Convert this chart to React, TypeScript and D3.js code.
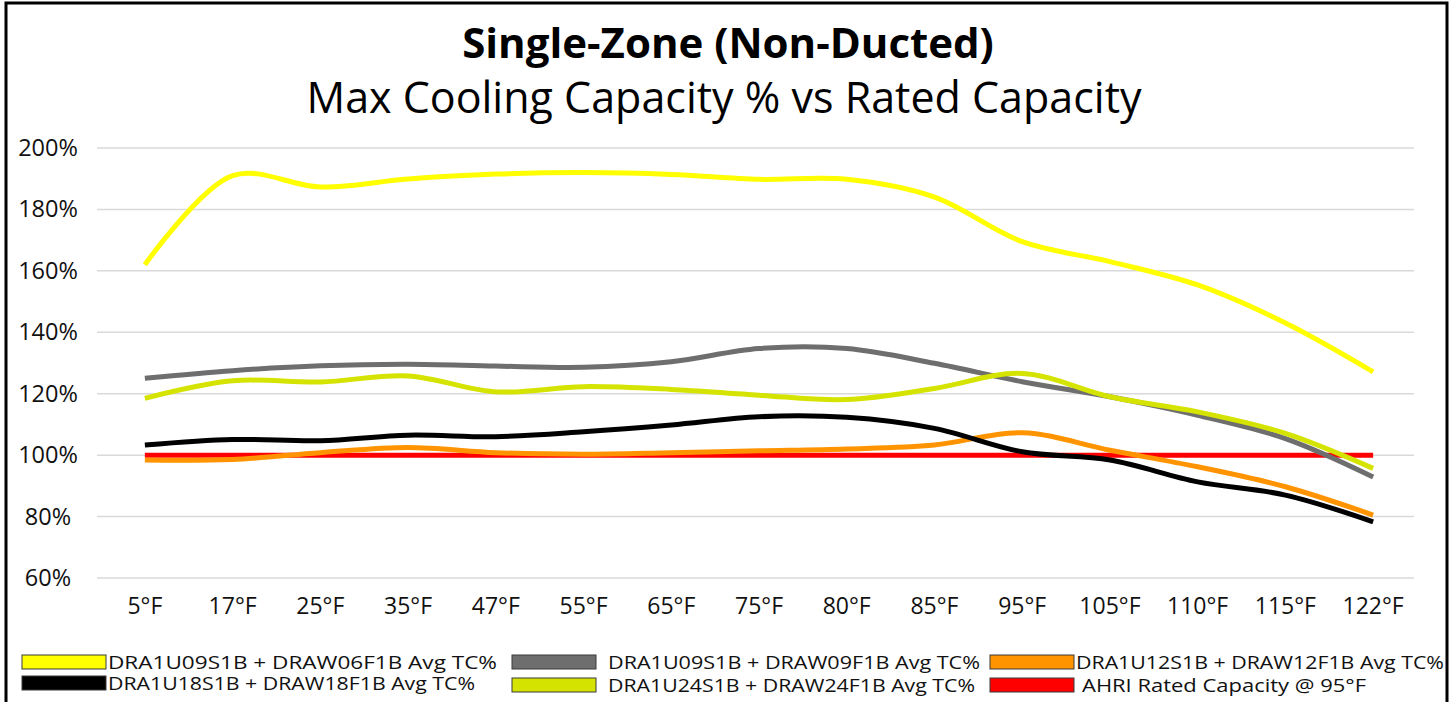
import React from 'react';
import * as d3 from 'd3';

// Outdoor temperature categories
const temps = ['5°F', '17°F', '25°F', '35°F', '47°F', '55°F', '65°F', '75°F', '80°F', '85°F', '95°F', '105°F', '110°F', '115°F', '122°F'];

// Avg TC% per system
const u09w06 = [162, 191, 187.3, 189.9, 191.5, 192, 191.4, 189.8, 189.8, 184, 169.5, 163, 155.4, 143, 127.1];
const u09w09 = [125, 127.5, 129.1, 129.6, 129, 128.6, 130.4, 134.7, 134.7, 129.9, 123.9, 119, 113, 105.4, 92.9];
const u12w12 = [98.4, 98.6, 100.8, 102.5, 100.8, 100.3, 100.8, 101.4, 102, 103.3, 107.3, 101.6, 96.2, 89.7, 80.5];
const u18w18 = [103.3, 105.1, 104.7, 106.5, 106, 107.6, 109.8, 112.5, 112.3, 108.7, 101.1, 98.4, 91.3, 87, 78.3];
const u24w24 = [118.5, 124.2, 123.8, 125.8, 120.6, 122.3, 121.4, 119.5, 118.1, 121.7, 126.6, 119, 114.1, 107.1, 95.7];
const ahri = [100, 100, 100, 100, 100, 100, 100, 100, 100, 100, 100, 100, 100, 100, 100];

const yTicks = [60, 80, 100, 120, 140, 160, 180, 200];

const series = [
  { name: 'DRA1U09S1B + DRAW06F1B  Avg TC%', values: u09w06, color: '#ffff00' },
  { name: 'DRA1U09S1B + DRAW09F1B Avg TC%', values: u09w09, color: '#6e6e6e' },
  { name: 'DRA1U12S1B + DRAW12F1B Avg TC%', values: u12w12, color: '#ff9400' },
  { name: 'DRA1U18S1B + DRAW18F1B Avg TC%', values: u18w18, color: '#000000' },
  { name: 'DRA1U24S1B + DRAW24F1B Avg TC%', values: u24w24, color: '#d5e300' },
  { name: 'AHRI Rated Capacity @ 95°F', values: ahri, color: '#ff0000' },
];

// draw order: bottom to top
const drawOrder = [5, 2, 3, 1, 4, 0];

// legend placement per series (swatch x/y, text x, text width)
const legendPos = [
  { x: 22, y: 655, tx: 108, tw: 389 },
  { x: 512, y: 655, tx: 608, tw: 372 },
  { x: 990, y: 655, tx: 1076, tw: 368 },
  { x: 22, y: 676, tx: 108, tw: 367 },
  { x: 512, y: 678, tx: 608, tw: 367 },
  { x: 990, y: 678, tx: 1082, tw: 284 },
];

const W = 1454;
const H = 702;
const font = '"Open Sans", sans-serif';

export default function App() {
  const x = d3.scalePoint<string>().domain(temps).range([101, 1417]).padding(0.5);
  const y = d3.scaleLinear().domain([60, 200]).range([578, 148]);

  const line = d3
    .line<number>()
    .x((_, i) => x(temps[i]) as number)
    .y(d => y(d))
    .curve(d3.curveCatmullRom.alpha(0.5));

  return (
    <svg width={W} height={H} style={{ position: 'absolute', left: 0, top: 0, background: '#fff' }}>
      <rect x={0} y={0} width={W} height={H} fill="#fff" />
      <rect x={6} y={3} width={1441} height={720} fill="none" stroke="#000" strokeWidth={3} />

      <text x={728} y={58} textAnchor="middle" fontFamily={font} fontWeight={700} fontSize={42} fill="#000">
        Single-Zone (Non-Ducted)
      </text>
      <text x={724} y={113} textAnchor="middle" fontFamily={font} fontSize={43} fill="#000">
        Max Cooling Capacity % vs Rated Capacity
      </text>

      {/* gridlines */}
      {yTicks.map(t => (
        <line key={t} x1={97} x2={1414} y1={y(t)} y2={y(t)} stroke="#d9d9d9" strokeWidth={1.5} />
      ))}
      {yTicks.map(t => (
        <text key={'l' + t} x={48} y={y(t) + 8} textAnchor="middle" fontFamily={font} fontSize={23.5} fill="#111">
          {t}%
        </text>
      ))}
      {temps.map(t => (
        <text key={t} x={x(t)} y={614} textAnchor="middle" fontFamily={font} fontSize={23} fill="#111">
          {t}
        </text>
      ))}

      {/* lines */}
      {drawOrder.map(i => (
        <path
          key={series[i].name}
          d={line(series[i].values) || ''}
          fill="none"
          stroke={series[i].color}
          strokeWidth={5}
        />
      ))}

      {/* legend */}
      {series.map((s, i) => (
        <g key={'lg' + i}>
          <rect x={legendPos[i].x} y={legendPos[i].y} width={84} height={14} fill={s.color} stroke="#3a3a3a" strokeWidth={1} />
          <text
            x={legendPos[i].tx}
            y={legendPos[i].y + 14}
            fontFamily={font}
            fontSize={18}
            textLength={legendPos[i].tw}
            lengthAdjust="spacingAndGlyphs"
            fill="#111"
          >
            {s.name}
          </text>
        </g>
      ))}
    </svg>
  );
}
